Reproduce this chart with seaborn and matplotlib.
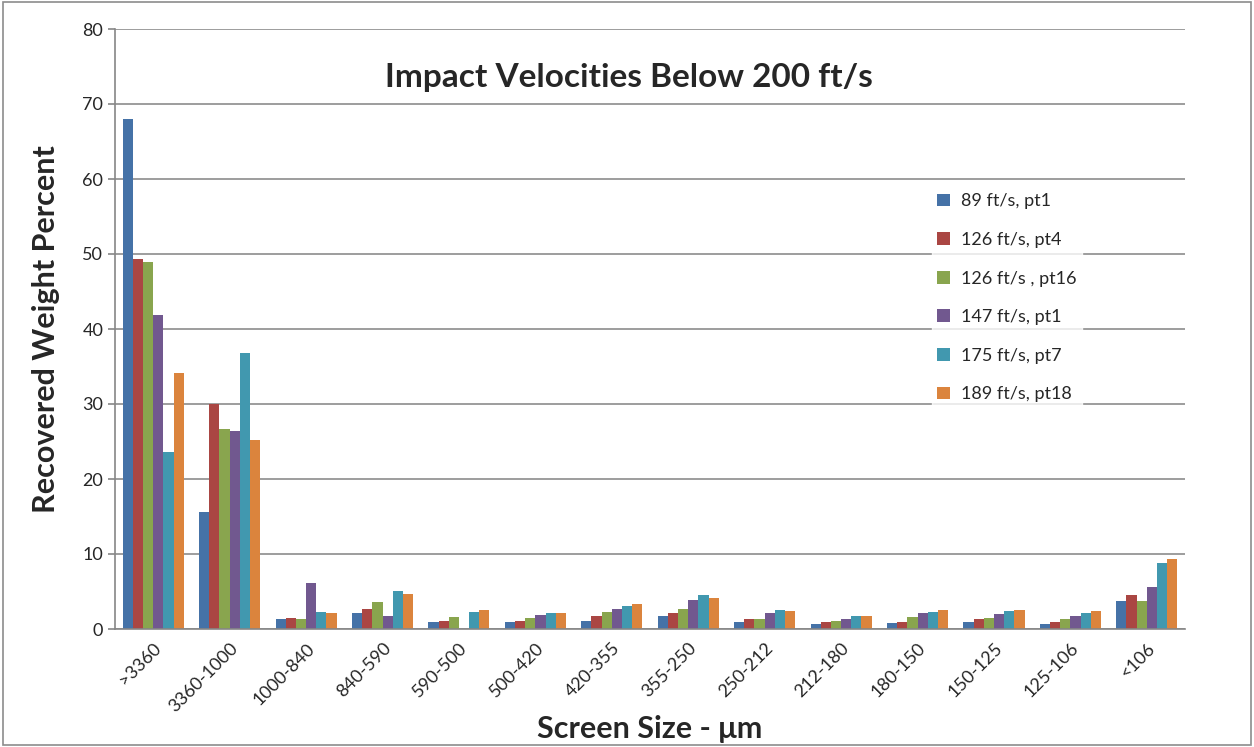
import matplotlib
matplotlib.use("Agg")
import matplotlib.pyplot as plt
import seaborn as sns
import pandas as pd
from matplotlib.patches import Rectangle, Patch

categories = [">3360", "3360-1000", "1000-840", "840-590", "590-500", "500-420",
              "420-355", "355-250", "250-212", "212-180", "180-150", "150-125",
              "125-106", "<106"]
series_names = ["89 ft/s, pt1", "126 ft/s, pt4", "126 ft/s , pt16",
                "147 ft/s, pt1", "175 ft/s, pt7", "189 ft/s, pt18"]
s1 = [68.0, 15.6, 1.3, 2.1, 1.0, 0.9, 1.1, 1.8, 1.0, 0.7, 0.8, 0.9, 0.7, 3.7]
s2 = [49.3, 30.0, 1.5, 2.7, 1.1, 1.1, 1.7, 2.1, 1.4, 0.9, 1.0, 1.3, 1.0, 4.6]
s3 = [48.9, 26.7, 1.4, 3.6, 1.6, 1.5, 2.3, 2.7, 1.4, 1.1, 1.6, 1.5, 1.3, 3.8]
s4 = [41.9, 26.4, 6.2, 1.8, 0.0, 1.9, 2.7, 3.9, 2.1, 1.3, 2.1, 2.0, 1.8, 5.6]
s5 = [23.6, 36.8, 2.3, 5.1, 2.3, 2.1, 3.1, 4.5, 2.6, 1.7, 2.3, 2.4, 2.1, 8.8]
s6 = [34.1, 25.2, 2.1, 4.7, 2.6, 2.2, 3.4, 4.2, 2.4, 1.7, 2.6, 2.5, 2.4, 9.3]
yticks = [0, 10, 20, 30, 40, 50, 60, 70, 80]

colors = ["#4572A7", "#AA4643", "#89A54E", "#71588F", "#4198AF", "#DB843D"]

rows = []
for name, vals in zip(series_names, [s1, s2, s3, s4, s5, s6]):
    for c, v in zip(categories, vals):
        rows.append({"Screen": c, "Series": name, "Value": v})
df = pd.DataFrame(rows)

sns.set_theme(style="white")
plt.rcParams["font.family"] = ["Lato", "DejaVu Sans"]

fig = plt.figure(figsize=(12.54, 7.47), dpi=100)
ax = fig.add_axes([115/1254, 1 - 629/747, (1185-115)/1254, (629-29)/747])

sns.barplot(data=df, x="Screen", y="Value", hue="Series", order=categories,
            hue_order=series_names, palette=colors, width=0.8, ax=ax,
            saturation=1, legend=False, linewidth=0)

ax.set_xlim(-0.5, len(categories) - 0.5)
ax.set_ylim(0, 80)
ax.set_yticks(yticks)
ax.yaxis.grid(True, color="#8c8c8c", linewidth=1.2)
ax.set_axisbelow(True)
for side in ["top", "right"]:
    ax.spines[side].set_visible(False)
for side in ["left", "bottom"]:
    ax.spines[side].set_color("#868686")
    ax.spines[side].set_linewidth(1.2)

ax.set_xticks(range(len(categories)))
ax.set_xticklabels(categories, rotation=45, ha="right", rotation_mode="anchor", fontsize=13)
ax.tick_params(axis="x", which="major", length=0, pad=8)
ax.set_xticks([i - 0.5 for i in range(len(categories) + 1)], minor=True)
ax.tick_params(axis="x", which="minor", length=6, color="#868686", width=1.2, direction="out")
ax.tick_params(axis="y", length=5, color="#868686", width=1.2, labelsize=13, left=True)

ax.set_xlabel("Screen Size - \u03bcm", fontsize=22, fontweight="bold", labelpad=0)
ax.set_ylabel("Recovered Weight Percent", fontsize=22, fontweight="bold", labelpad=16)

ax.text(0.48, 0.92, "Impact Velocities Below 200 ft/s", transform=ax.transAxes,
        ha="center", va="center", fontsize=24, fontweight="bold")

handles = [Patch(facecolor=c, edgecolor="none") for c in colors]
leg = ax.legend(handles, series_names, loc="upper left",
                bbox_to_anchor=((932-115)/1070, (629-188)/600),
                frameon=True, fontsize=13, handlelength=0.7, handleheight=0.7,
                labelspacing=1.25, handletextpad=0.6, borderpad=0.3,
                fancybox=False, borderaxespad=0)
leg.get_frame().set_facecolor("white")
leg.get_frame().set_edgecolor("white")

fig.patches.append(Rectangle((0.002, 0.003), 0.996, 0.994, transform=fig.transFigure,
                             fill=False, edgecolor="#8c8c8c", linewidth=1.2))

fig.savefig("out.png", dpi=100)
